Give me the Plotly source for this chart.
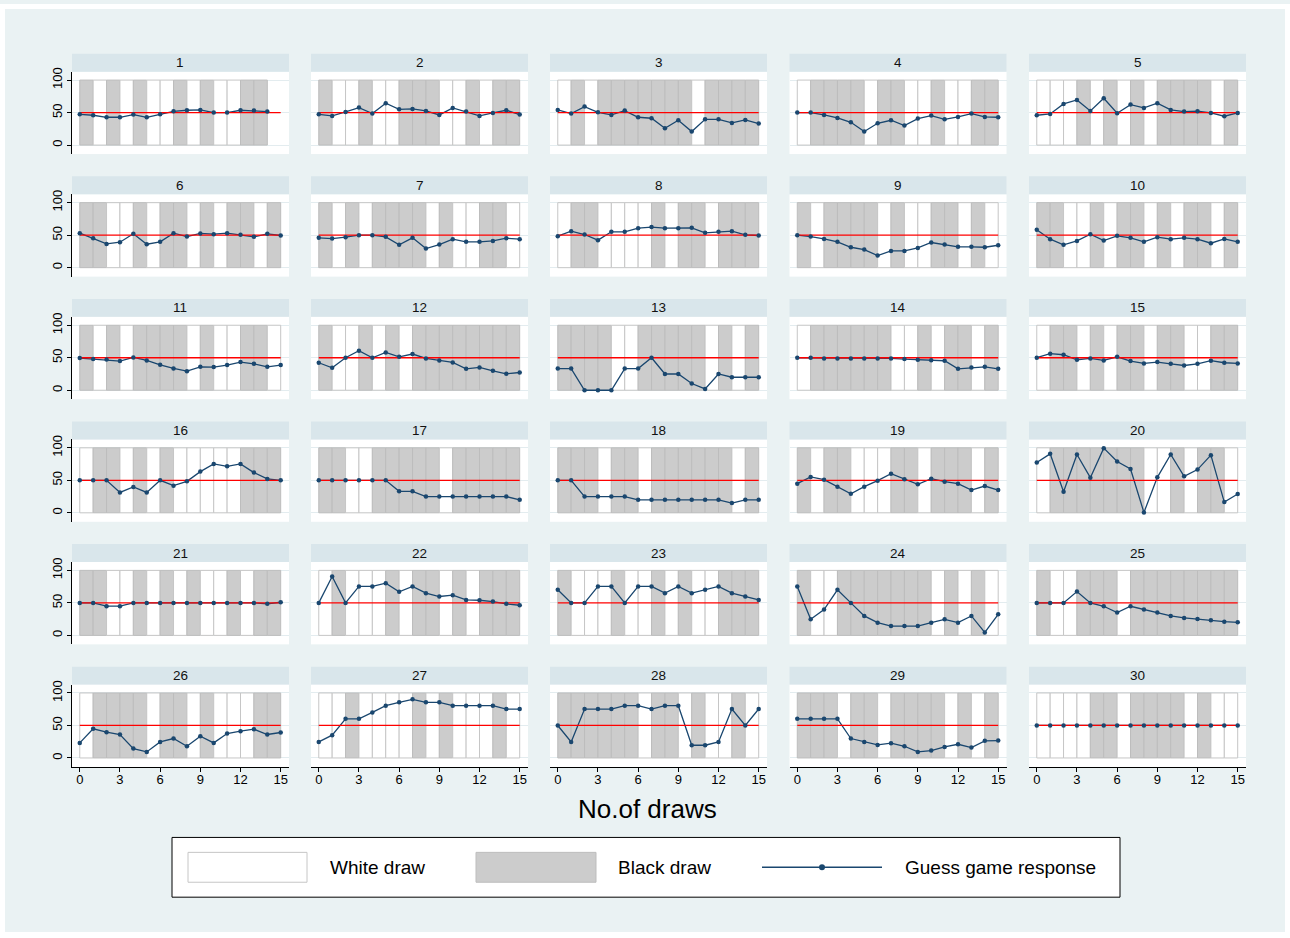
import plotly.graph_objects as go

# ---------------- data ----------------
panel_labels = [str(i) for i in range(1, 31)]
x_ticks = [0, 3, 6, 9, 12, 15]
y_ticks = [0, 50, 100]
reference_level = 50
reference_x = [0, 15]
bar_top = 100

# draw colours per draw (W = white ball, B = black ball)
draws_01 = "BWBWBWWBWBWWBB"
draws_02 = "BWWBWWBBBWWBWBB"
draws_03 = "WBWBBBBBBBWBBBB"
draws_04 = "WBBBBWBBWWBWWBB"
draws_05 = "WWWBWBWBWBBBBWB"
draws_06 = "BBWWBWBBWBWBBWB"
draws_07 = "BWBWBBBBWBWWBBW"
draws_08 = "WBBWWWWBWBBWBBB"
draws_09 = "BWBBBBWBWWBBWBW"
draws_10 = "BBWWBWBBWBWBBWB"
draws_11 = "BWBWBBBBWBWWBBW"
draws_12 = "BWWBWBWBBBBBBBB"
draws_13 = "BBBBWWBBBBBWBWB"
draws_14 = "WBBBBBBWWBWBBWB"
draws_15 = "WBBWBWBBWBBWWBB"
draws_16 = "WBBWBWBWWWWWBBB"
draws_17 = "BBWWBBBBBWBBBBB"
draws_18 = "BBBWBBWBBBBBBWB"
draws_19 = "BWBBWWWBBWBBBWB"
draws_20 = "WBBBBBBBWWBWBBW"
draws_21 = "BBWWBWBWBWWBWBB"
draws_22 = "WBWWWBWBBWBWBBB"
draws_23 = "BWWWBWWBWBWWBBB"
draws_24 = "BWWBBBBBBBWBWBW"
draws_25 = "BWWBBBWBBBBBBBB"
draws_26 = "WBBBBWBBWBWWWBB"
draws_27 = "WWBWWWWBWBWWWBW"
draws_28 = "BBBBBBWBBWBWWBW"
draws_29 = "BBBWBBWBBBBWBWB"
draws_30 = "WWWWBBWBBBBWBWW"

# guess game responses after 0..n draws
guess_01 = [47.4, 45.9, 42.8, 42.8, 46.9, 42.8, 47.4, 52, 53.6, 54.1, 50, 50, 53.6, 53.1, 51.5]
guess_02 = [47.4, 44.9, 51, 57.7, 48.5, 64.4, 55.1, 55.6, 52.6, 46.4, 57.2, 51.5, 44.9, 49.5, 53.6, 46.9]
guess_03 = [54.1, 48.5, 59.2, 50.5, 46.4, 53.1, 42.8, 41.3, 25.9, 38.2, 20.8, 39.7, 39.7, 34.1, 38.7, 33.1]
guess_04 = [50, 50, 46.4, 41.8, 35.1, 20.8, 33.6, 38.2, 30, 40.8, 45.4, 39.7, 43.3, 48.5, 43.3, 42.8]
guess_05 = [45.9, 47.9, 63.3, 69.5, 52.6, 72.1, 49, 62.3, 57.2, 64.4, 54.1, 51.5, 52.1, 49.5, 44.4, 49.5]
guess_06 = [53.1, 45.4, 36.6, 39.2, 52.1, 36.1, 39.7, 53.1, 47.9, 52.6, 51.5, 53.1, 50.5, 47.4, 52.1, 49.5]
guess_07 = [45.9, 44.8, 46.9, 50, 50, 47.4, 35.1, 45.9, 29.4, 35.6, 43.8, 39.7, 39.7, 41.2, 45.4, 43.8]
guess_08 = [48.5, 56.2, 51, 42.3, 55.2, 55.2, 60.8, 62.4, 60.8, 60.8, 61.3, 53.6, 55.2, 56.2, 50.5, 49.5]
guess_09 = [50, 47.9, 44.3, 39.7, 31.4, 27.8, 18.6, 25.8, 25.8, 30.4, 38.7, 35.6, 32, 32, 31.4, 34.5]
guess_10 = [58.2, 43.8, 35.1, 41.2, 51.5, 41.8, 49, 45.9, 39.7, 46.9, 43.8, 45.9, 43.8, 37.6, 44.3, 39.7]
guess_11 = [49.5, 47.9, 47.4, 44.8, 50.5, 45.9, 39.2, 33.5, 29.4, 36.1, 35.6, 38.7, 43.3, 40.7, 36.1, 38.7]
guess_12 = [42.3, 34.5, 50, 60.8, 50, 58.2, 51.5, 55.7, 49, 45.9, 42.8, 33, 35.1, 29.9, 25.3, 27.3]
guess_13 = [33.3, 33.3, 0, 0, 0, 33.3, 33.3, 50, 25, 25, 10.3, 2, 25, 20, 20, 20]
guess_14 = [50, 50, 49, 49, 49, 49, 49, 49, 48, 47, 46, 45.4, 33, 35, 36, 33]
guess_15 = [50, 56.2, 54.6, 46.9, 49, 45.9, 51.5, 44.8, 41.2, 43.3, 40.7, 38.1, 40.7, 45.4, 42.3, 41.2]
guess_16 = [50, 50, 50, 31.4, 39.7, 31.4, 50, 41.8, 48.5, 63.4, 75.3, 71.6, 75.3, 61.9, 52.1, 50]
guess_17 = [50, 50, 50, 50, 50, 50, 33, 33, 25, 25, 25, 25, 25, 25, 25, 20]
guess_18 = [50, 50, 25, 25, 25, 25, 20, 20, 20, 20, 20, 20, 20, 15, 20, 20]
guess_19 = [44.8, 55.2, 51, 40.2, 29.4, 40.2, 49.5, 60.3, 51.5, 43.8, 52.6, 47.9, 44.8, 35.1, 41.2, 35.1]
guess_20 = [77.3, 90.7, 32.5, 89.7, 54.1, 99.5, 78.9, 67.5, 0.5, 54.6, 89.7, 56.2, 66.5, 88.7, 16.5, 28.9]
guess_21 = [50, 50, 45, 45, 50, 50, 50, 50, 50, 50, 50, 50, 50, 50, 48.5, 51]
guess_22 = [50, 90.7, 50, 75.3, 75.3, 80.4, 67, 75.3, 65, 59.8, 61.9, 54.6, 54.1, 52.1, 48.5, 46.4]
guess_23 = [70.1, 50, 50, 75.3, 75.3, 50, 75.3, 75.3, 65, 75.3, 65, 70.1, 75.3, 65, 59.8, 54.6]
guess_24 = [75.3, 24.7, 39.7, 70.1, 50, 29.9, 19.6, 14.4, 14.4, 14.4, 19.6, 24.7, 19.6, 29.9, 4.6, 32.5]
guess_25 = [50, 50, 50, 67.5, 50, 44.8, 35.1, 44.8, 39.7, 35.1, 29.9, 26.8, 25.3, 23.2, 21.1, 20.1]
guess_26 = [23.2, 44.8, 39.7, 36.1, 14.4, 9.3, 24.7, 29.9, 18, 33.5, 23.2, 37.6, 41.2, 44.3, 36.1, 39.2]
guess_27 = [24.7, 35.1, 60.3, 60.3, 70.1, 80.4, 85.6, 90.2, 85.6, 85.6, 80.4, 80.4, 80.4, 80.4, 75.3, 75.3]
guess_28 = [50, 24.7, 75.3, 75.3, 75.3, 80.4, 80.4, 75.3, 80.4, 80.4, 19.6, 19.6, 24.7, 75.3, 50, 75.3]
guess_29 = [60.3, 60.3, 60.3, 60.3, 29.9, 24.7, 20.1, 22.7, 18, 9.3, 11.3, 17, 21.1, 16, 26.3, 26.8]
guess_30 = [50, 50, 50, 50, 50, 50, 50, 50, 50, 50, 50, 50, 50, 50, 50, 50]

draws_all = [draws_01, draws_02, draws_03, draws_04, draws_05, draws_06, draws_07, draws_08,
             draws_09, draws_10, draws_11, draws_12, draws_13, draws_14, draws_15, draws_16,
             draws_17, draws_18, draws_19, draws_20, draws_21, draws_22, draws_23, draws_24,
             draws_25, draws_26, draws_27, draws_28, draws_29, draws_30]
guess_all = [guess_01, guess_02, guess_03, guess_04, guess_05, guess_06, guess_07, guess_08,
             guess_09, guess_10, guess_11, guess_12, guess_13, guess_14, guess_15, guess_16,
             guess_17, guess_18, guess_19, guess_20, guess_21, guess_22, guess_23, guess_24,
             guess_25, guess_26, guess_27, guess_28, guess_29, guess_30]

legend_labels = ["White draw", "Black draw", "Guess game response"]
x_title = "No.of draws"

# ---------------- style ----------------
W, H = 1290, 938
FONT = "Liberation Sans, Arial, Helvetica, sans-serif"
BG = "#eaf2f3"
STRIP = "#d9e6eb"
GRID = "#e3ecef"
NAVY = "#1a476f"
RED = "#ff0000"
FILL = {"W": "#ffffff", "B": "#cccccc"}
EDGE = {"W": "#c6c6c6", "B": "#bdbdbd"}

col_left = [72, 311, 550, 789.5, 1029]
panel_w = 217
row_top = [50 + r * 123.1 for r in range(6)]
strip_h = 18
panel_h = 100.7
x_range = [-0.58, 15.62]
y_range = [-13.8, 112.9]

fig = go.Figure()
layout = {}
shapes = []
annotations = []

for k in range(30):
    r, c = divmod(k, 5)
    sfx = "" if k == 0 else str(k + 1)
    xa, ya = "x" + sfx, "y" + sfx
    x0 = col_left[c]
    x1 = x0 + panel_w
    yt = row_top[r]
    yh = yt + strip_h
    yb = yt + panel_h

    seq = list(draws_all[k])
    vals = guess_all[k]

    fig.add_trace(go.Bar(
        x=[i + 0.5 for i in range(len(seq))], y=[bar_top] * len(seq), base=0, width=1,
        marker=dict(color=[FILL[s] for s in seq], line=dict(color=[EDGE[s] for s in seq], width=1)),
        xaxis=xa, yaxis=ya, showlegend=False, hoverinfo="skip"))
    fig.add_trace(go.Scatter(
        x=list(range(len(vals))), y=vals, mode="lines",
        line=dict(color=NAVY, width=1.3), xaxis=xa, yaxis=ya, showlegend=False, hoverinfo="skip"))
    fig.add_trace(go.Scatter(
        x=reference_x, y=[reference_level, reference_level], mode="lines",
        line=dict(color=RED, width=1.3), xaxis=xa, yaxis=ya, showlegend=False, hoverinfo="skip"))
    fig.add_trace(go.Scatter(
        x=list(range(len(vals))), y=vals, mode="markers",
        marker=dict(color=NAVY, size=4.5, line=dict(width=0)),
        xaxis=xa, yaxis=ya, showlegend=False, hoverinfo="skip"))

    bottom = (r == 5)
    left = (c == 0)
    layout["xaxis" + sfx] = dict(
        domain=[x0 / W, x1 / W], range=x_range, anchor=ya, showgrid=False, zeroline=False,
        tickvals=x_ticks, showticklabels=bottom, ticks="outside" if bottom else "",
        ticklen=4, tickcolor="black", showline=bottom, linecolor="black", linewidth=1,
        ticklabelstandoff=-4,
        tickfont=dict(family=FONT, size=13, color="black"), fixedrange=True)
    layout["yaxis" + sfx] = dict(
        domain=[1 - yb / H, 1 - yh / H], range=y_range, anchor=xa, showgrid=True,
        gridcolor=GRID, gridwidth=1, zeroline=False, tickvals=y_ticks,
        showticklabels=left, ticks="outside" if left else "", ticklen=4, tickcolor="black",
        tickangle=-90, showline=left, linecolor="black", linewidth=1,
        tickfont=dict(family=FONT, size=13, color="black"), fixedrange=True)

    shapes.append(dict(type="rect", xref="paper", yref="paper", x0=x0 / W, x1=x1 / W,
                       y0=1 - yh / H, y1=1 - yt / H, fillcolor=STRIP, line=dict(width=0),
                       layer="below"))
    annotations.append(dict(text=panel_labels[k], xref="paper", yref="paper",
                            x=(x0 + x1) / 2 / W, y=1 - (yt + yh) / 2 / H, showarrow=False,
                            xanchor="center", yanchor="middle",
                            font=dict(family=FONT, size=13.5, color="#111111")))

# axis title
annotations.append(dict(text=x_title, xref="paper", yref="paper", x=647 / W, y=1 - 808 / H,
                        showarrow=False, xanchor="center", yanchor="middle",
                        font=dict(family=FONT, size=26, color="black")))

# legend (drawn manually, Stata style)
def px_rect(x0, y0, x1, y1, fill, line_color, lw=1):
    return dict(type="rect", xref="paper", yref="paper", x0=x0 / W, x1=x1 / W,
                y0=1 - y1 / H, y1=1 - y0 / H, fillcolor=fill,
                line=dict(color=line_color, width=lw))

shapes.append(px_rect(172, 837, 1120, 897, "white", "black", 1))
shapes.append(px_rect(188, 852, 307, 882, FILL["W"], EDGE["W"], 1))
shapes.append(px_rect(476, 852, 596, 882, FILL["B"], EDGE["B"], 1))
shapes.append(dict(type="line", xref="paper", yref="paper", x0=762 / W, x1=882 / W,
                   y0=1 - 867 / H, y1=1 - 867 / H, line=dict(color=NAVY, width=1.5)))
shapes.append(dict(type="circle", xref="paper", yref="paper", x0=819 / W, x1=825 / W,
                   y0=1 - 870 / H, y1=1 - 864 / H, fillcolor=NAVY, line=dict(width=0)))
for lx, lab in zip([328, 616, 903], legend_labels):
    annotations.append(dict(text=lab, xref="paper", yref="paper", x=lx / W, y=1 - 867 / H,
                            showarrow=False, xanchor="left", yanchor="middle",
                            font=dict(family=FONT, size=19, color="black")))

# thin white edge around the graph region
for (a, b, cc, d) in [(0, 0, W, 5), (0, H - 6, W, H), (0, 0, 5, H), (W - 5, 0, W, H)]:
    shapes.append(dict(type="rect", xref="paper", yref="paper", x0=a / W, x1=cc / W,
                       y0=1 - d / H, y1=1 - b / H, fillcolor="white", line=dict(width=0),
                       layer="below"))

fig.update_layout(
    width=W, height=H, autosize=False,
    margin=dict(l=0, r=0, t=0, b=0, pad=0),
    paper_bgcolor=BG, plot_bgcolor="white",
    barmode="overlay", bargap=0,
    shapes=shapes, annotations=annotations,
    font=dict(family=FONT, color="black"),
    **layout)

fig.write_html("out.html",
               config={"displayModeBar": False, "staticPlot": True},
               post_script="document.body.style.margin='0';document.body.style.overflow='hidden';")
